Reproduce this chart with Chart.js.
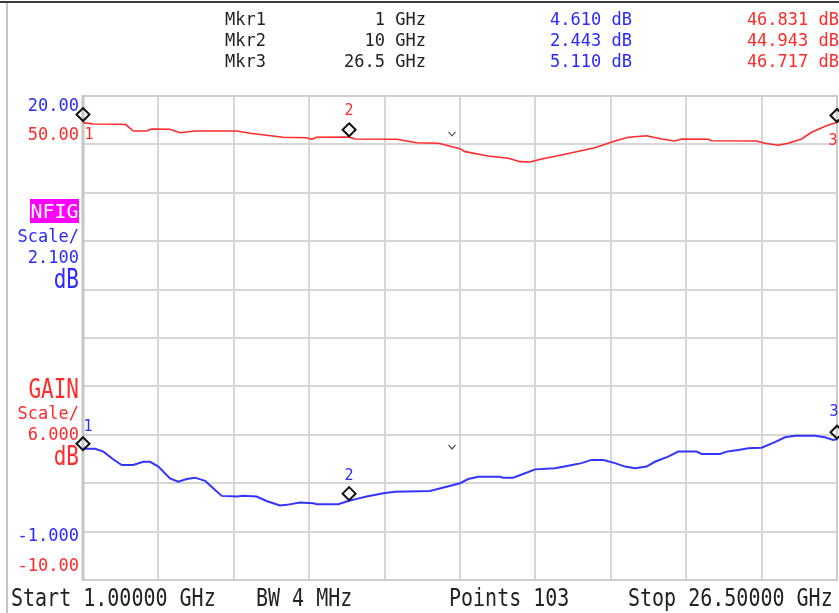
<!DOCTYPE html>
<html><head><meta charset="utf-8">
<script src="https://cdn.jsdelivr.net/npm/chart.js@4.4.0/dist/chart.umd.min.js"></script>
<style>
html,body{margin:0;padding:0;background:#fff;}
#wrap{position:relative;width:839px;height:613px;overflow:hidden;background:#fff;}
#c{position:absolute;left:0;top:0;}
.t{position:absolute;font-family:"DejaVu Sans Mono",monospace;white-space:pre;line-height:20px;height:20px;}
.r{text-align:right;}
.tall{transform:scaleY(1.28);transform-origin:50% 50%;}
.blue{color:#2a2aff;}
.red{color:#ff2a2a;}
.blk{color:#222;}
#frameTop{position:absolute;left:0;top:1px;width:839px;height:2px;background:#3a3a3a;}
#frameLeft{position:absolute;left:6px;top:3px;width:2px;height:610px;background:#c4c4c4;}
</style></head><body>
<div id="wrap">
<canvas id="c" width="839" height="613"></canvas>
<div id="frameTop"></div><div id="frameLeft"></div>
<div id="hdr"></div>
<div id="side"></div>
<div id="foot"></div>
</div>
<script>
// ---- data ----
const freqRange = [1, 26.5];            // GHz, start / stop
const nfRange = [-1, 20];               // NFIG axis bottom / top (dB), 2.1 dB/div
const gainRange = [-10, 50];            // GAIN axis bottom / top (dB), 6 dB/div
const nfScaleLabel = "2.100";
const gainScaleLabel = "6.000";
const markerNames = ["Mkr1", "Mkr2", "Mkr3"];
const markerFreqs = [1, 10, 26.5];
const markerFreqLabels = ["1 GHz", "10 GHz", "26.5 GHz"];
const markerNf = [4.610, 2.443, 5.110];
const markerGain = [46.831, 44.943, 46.717];
const footerLabels = ["Start 1.00000 GHz", "BW 4 MHz", "Points 103", "Stop 26.50000 GHz"];

const freqGain = [1.0,1.35,2.25,2.45,2.70,3.15,3.32,3.94,4.28,4.79,6.20,6.65,7.21,7.77,8.57,8.73,8.90,10.0,10.20,11.61,12.29,13.02,13.75,13.92,14.71,15.39,15.78,16.12,16.51,17.30,18.31,18.99,19.44,20.06,20.57,21.02,21.25,22.15,22.26,23.78,24.06,24.51,24.85,25.30,25.64,26.20,26.5];
const gainDb   = [46.70,46.53,46.49,46.45,45.66,45.66,45.91,45.87,45.45,45.66,45.66,45.38,45.13,44.88,44.83,44.63,44.88,44.90,44.67,44.63,44.21,44.14,43.47,43.10,42.56,42.28,41.86,41.82,42.19,42.77,43.59,44.42,44.88,45.08,44.67,44.42,44.67,44.63,44.46,44.42,44.14,43.89,44.14,44.67,45.50,46.41,46.72];

const freqNf = [1.0,1.41,1.69,2.02,2.31,2.70,3.04,3.27,3.55,3.94,4.22,4.51,4.79,5.13,5.69,6.20,6.42,6.87,7.21,7.66,7.89,8.34,8.79,8.90,9.63,10.0,10.26,10.59,11.16,11.55,12.73,13.30,13.75,14.03,14.37,15.10,15.21,15.55,15.95,16.29,16.96,17.41,17.86,18.20,18.60,18.99,19.33,19.67,20.06,20.34,20.79,21.13,21.75,21.92,22.54,22.77,23.16,23.50,23.95,24.40,24.74,25.08,25.75,26.09,26.37,26.5];
const nfDb   = [4.70,4.69,4.57,4.24,3.99,3.99,4.13,4.13,3.92,3.41,3.27,3.38,3.44,3.30,2.65,2.62,2.66,2.62,2.43,2.23,2.26,2.36,2.33,2.29,2.29,2.44,2.52,2.62,2.76,2.83,2.86,3.05,3.20,3.38,3.48,3.48,3.44,3.44,3.63,3.80,3.85,3.96,4.07,4.21,4.21,4.07,3.92,3.85,3.92,4.13,4.35,4.57,4.57,4.47,4.47,4.57,4.64,4.72,4.74,4.98,5.19,5.26,5.26,5.19,5.08,5.11];

const caretFreq = 13.48, caretGain = 45.3, caretNf = 4.77;

// ---- html text ----
function addText(parent, txt, cls, style){
  const d=document.createElement('div'); d.className='t '+cls; d.textContent=txt;
  Object.assign(d.style, style); document.getElementById(parent).appendChild(d); return d;
}
const rowC=[19,40,61];
for(let i=0;i<3;i++){
  const top=(rowC[i]-10)+'px';
  addText('hdr', markerNames[i], 'blk', {left:'225px', top, fontSize:'17px'});
  addText('hdr', markerFreqLabels[i], 'blk r', {left:'225px', width:'201px', top, fontSize:'17px'});
  addText('hdr', markerNf[i].toFixed(3)+' dB', 'blue r', {left:'430px', width:'202px', top, fontSize:'17px'});
  addText('hdr', markerGain[i].toFixed(3)+' dB', 'red r', {left:'630px', width:'209px', top, fontSize:'17px'});
}
function side(txt, cls, cy, fs){
  return addText('side', txt, cls+' r', {left:'0px', width:'79px', top:(cy-10)+'px', fontSize:fs+'px'});
}
side(nfRange[1].toFixed(2), 'blue', 105, 17);
side(gainRange[1].toFixed(2), 'red', 134, 17);
addText('side', 'NFIG', 'tall', {left:'30px', width:'49px', top:'199px', height:'24px', lineHeight:'24px', fontSize:'20px', color:'#fff', background:'#ff00ff', textAlign:'center', transform:'none'});
side('Scale/', 'blue', 236, 17);
side(nfScaleLabel, 'blue', 257, 17);
side('dB', 'blue tall', 279, 21);
side('GAIN', 'red tall', 389, 21);
side('Scale/', 'red', 413, 17);
side(gainScaleLabel, 'red', 434, 17);
side('dB', 'red tall', 456, 21);
side(nfRange[0].toFixed(3), 'blue', 535, 17);
side(gainRange[0].toFixed(2), 'red', 565, 17);
const footX=[11,256,449,628];
footerLabels.forEach((s,i)=>addText('foot', s, 'blk tall', {left:footX[i]+'px', top:'587px', fontSize:'20px'}));

// ---- chart ----
const gridPlugin = {
  id:'grid',
  beforeDatasetsDraw(chart){
    const {ctx, chartArea:a, scales} = chart;
    const x=scales.x, y=scales.yN;
    ctx.save();
    ctx.strokeStyle='#d6d6d6'; ctx.lineWidth=2;
    for(let k=1;k<10;k++){
      const px=Math.round(x.getPixelForValue(freqRange[0]+k*(freqRange[1]-freqRange[0])/10));
      ctx.beginPath(); ctx.moveTo(px,a.top); ctx.lineTo(px,a.bottom); ctx.stroke();
      const py=Math.round(y.getPixelForValue(nfRange[0]+k*(nfRange[1]-nfRange[0])/10));
      ctx.beginPath(); ctx.moveTo(a.left,py); ctx.lineTo(a.right,py); ctx.stroke();
    }
    ctx.strokeStyle='#cdcdcd'; ctx.lineWidth=2;
    ctx.strokeRect(a.left, a.top, a.right-a.left, a.bottom-a.top);
    ctx.lineWidth=3; ctx.strokeStyle='#c6c6c6';
    ctx.beginPath(); ctx.moveTo(a.left,a.top-1); ctx.lineTo(a.left,a.bottom+1); ctx.stroke();
    ctx.restore();
  }
};
const markerPlugin = {
  id:'markers',
  afterDatasetsDraw(chart){
    const {ctx, scales} = chart;
    const x=scales.x;
    ctx.save();
    function diamond(px,py){
      const h=6.5;
      ctx.strokeStyle='#111'; ctx.lineWidth=2;
      ctx.beginPath(); ctx.moveTo(px,py-h); ctx.lineTo(px+h,py); ctx.lineTo(px,py+h); ctx.lineTo(px-h,py); ctx.closePath(); ctx.stroke();
    }
    const gOff=[[6,21],[0,-19],[-4,26]];
    const nOff=[[5,-17],[0,-18],[-3,-20]];
    ctx.font='15px "DejaVu Sans Mono", monospace';
    ctx.textAlign='center'; ctx.textBaseline='middle';
    for(let i=0;i<3;i++){
      const px=x.getPixelForValue(markerFreqs[i]);
      const gy=scales.yG.getPixelForValue(markerGain[i])-7;
      diamond(px,gy);
      ctx.fillStyle='#ff2a2a';
      ctx.fillText(String(i+1), px+gOff[i][0], gy+gOff[i][1]);
      const ny=scales.yN.getPixelForValue(markerNf[i])-7;
      diamond(px,ny);
      ctx.fillStyle='#2a2aff';
      ctx.fillText(String(i+1), px+nOff[i][0], ny+nOff[i][1]);
    }
    // small caret indicators
    ctx.strokeStyle='#555'; ctx.lineWidth=1.2;
    const cx=x.getPixelForValue(caretFreq);
    [scales.yG.getPixelForValue(caretGain), scales.yN.getPixelForValue(caretNf)].forEach(cy=>{
      ctx.beginPath(); ctx.moveTo(cx-3.5,cy-2); ctx.lineTo(cx,cy+2); ctx.lineTo(cx+3.5,cy-2); ctx.stroke();
    });
    ctx.restore();
  }
};

new Chart(document.getElementById('c'), {
  type:'line',
  data:{
    datasets:[
      {label:'GAIN', data:freqGain.map((f,i)=>({x:f,y:gainDb[i]})), yAxisID:'yG',
       borderColor:'#ff2a2a', borderWidth:1.6, pointRadius:0, tension:0, fill:false},
      {label:'NFIG', data:freqNf.map((f,i)=>({x:f,y:nfDb[i]})), yAxisID:'yN',
       borderColor:'#3434ff', borderWidth:2, pointRadius:0, tension:0, fill:false}
    ]
  },
  options:{
    responsive:false, animation:false, devicePixelRatio:1,
    layout:{padding:{left:83,right:2,top:96,bottom:33}},
    plugins:{legend:{display:false}, tooltip:{enabled:false}},
    scales:{
      x:{type:'linear', min:freqRange[0], max:freqRange[1], display:false},
      yN:{type:'linear', min:nfRange[0], max:nfRange[1], display:false, position:'left'},
      yG:{type:'linear', min:gainRange[0], max:gainRange[1], display:false, position:'right'}
    }
  },
  plugins:[gridPlugin, markerPlugin]
});
</script>
</body></html>
